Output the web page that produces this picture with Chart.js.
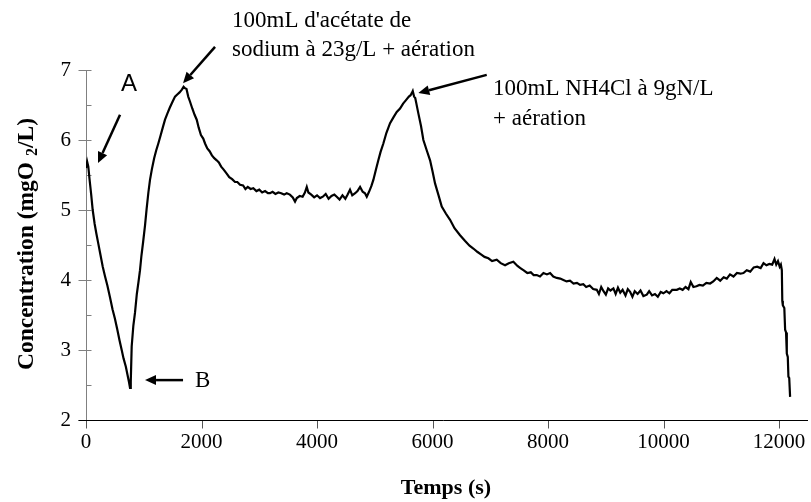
<!DOCTYPE html>
<html><head><meta charset="utf-8">
<script src="https://cdn.jsdelivr.net/npm/chart.js@4/dist/chart.umd.min.js"></script>
<style>html,body{margin:0;padding:0;background:#fff}canvas{display:block}</style>
</head><body>
<canvas id="c" width="811" height="502"></canvas>
<script>
// ---- data ----
const timeS = [0,20,40,60,90,116,150,180,213,250,290,330,370,416,460,500,540,580,618,650,690,720,745,762,
775,791,820,848,880,910,935,960,990,1022,1050,1080,1108,1140,1180,1215,1252,1290,1330,1368,1410,1450,1500,1541,1580,1620,1660,1690,1714,1740,1770,1800,1840,1880,1917,1950,1990,2030,2061,2100,2140,2180,2220,2263,2300,2340,2380,2436,2480,2530,2580,2620,2667,2720,2760,2800,2850,2897,2950,3000,3050,3100,3150,3186,3230,3280,3330,3380,3430,3475,3530,3580,3619,3650,3700,3750,3790,3822,3850,3900,3950,4000,4052,4100,4150,4200,4250,4300,4341,4390,4440,4490,4530,4571,4610,4660,4700,4745,4790,4830,4861,4900,4940,4975,5020,5061,5100,5148,5200,5264,5320,5380,5437,5490,5540,5590,5620,5640,5657,5680,5700,5720,5754,5800,5841,5900,5957,6000,6043,6100,6159,6230,6303,6380,6476,6560,6640,6706,6780,6850,6900,6966,7030,7111,7180,7255,7320,7399,7470,7520,7572,7640,7700,7750,7804,7860,7920,7980,8035,8090,8150,8210,8265,8320,8380,8440,8500,8554,8610,8660,8720,8780,8843,8880,8920,8960,9000,9040,9080,9131,9170,9210,9250,9290,9340,9380,9420,9460,9500,9550,9600,9650,9709,9750,9800,9850,9900,9950,9997,10050,10100,10150,10229,10280,10330,10380,10430,10470,10516,10570,10620,10680,10740,10805,10860,10920,10980,11040,11094,11150,11210,11270,11330,11382,11440,11500,11560,11620,11680,11730,11780,11830,11880,11920,11950,11980,12010,12030,12047,12055,12064,12090,12104,12120,12133,12150,12161,12175,12190];
const concMgO2 = [5.60,5.69,5.62,5.45,5.22,5.00,4.80,4.66,4.52,4.36,4.19,4.05,3.92,3.75,3.58,3.45,3.30,3.14,3.00,2.88,2.76,2.64,2.54,2.46,
2.55,3.05,3.35,3.53,3.80,3.98,4.14,4.35,4.55,4.78,5.02,5.25,5.43,5.58,5.74,5.85,5.95,6.06,6.18,6.29,6.38,6.46,6.55,6.62,6.65,6.68,6.72,6.76,6.74,6.73,6.62,6.55,6.45,6.36,6.29,6.18,6.07,6.02,5.95,5.88,5.84,5.78,5.74,5.71,5.68,5.62,5.58,5.52,5.47,5.44,5.40,5.40,5.36,5.35,5.30,5.33,5.30,5.31,5.27,5.29,5.25,5.27,5.24,5.24,5.26,5.23,5.25,5.24,5.22,5.24,5.22,5.18,5.12,5.17,5.20,5.19,5.25,5.33,5.25,5.22,5.18,5.21,5.17,5.19,5.23,5.16,5.20,5.22,5.19,5.15,5.21,5.16,5.22,5.29,5.21,5.24,5.27,5.33,5.26,5.24,5.19,5.26,5.34,5.43,5.58,5.71,5.83,5.95,6.10,6.24,6.32,6.40,6.45,6.52,6.57,6.62,6.64,6.67,6.70,6.62,6.60,6.52,6.38,6.20,6.00,5.85,5.71,5.55,5.38,5.22,5.05,4.95,4.86,4.74,4.64,4.56,4.49,4.45,4.40,4.36,4.33,4.31,4.27,4.29,4.24,4.21,4.24,4.26,4.20,4.17,4.14,4.10,4.11,4.07,4.07,4.05,4.10,4.08,4.10,4.05,4.03,4.02,4.00,3.98,3.99,3.95,3.96,3.93,3.94,3.90,3.92,3.87,3.86,3.80,3.90,3.84,3.79,3.88,3.85,3.88,3.80,3.89,3.82,3.86,3.78,3.87,3.83,3.76,3.84,3.80,3.85,3.77,3.79,3.84,3.78,3.80,3.76,3.83,3.81,3.84,3.81,3.86,3.86,3.88,3.86,3.90,3.87,3.97,3.90,3.91,3.93,3.92,3.96,3.95,3.98,4.03,3.99,4.04,4.02,4.08,4.05,4.10,4.09,4.10,4.14,4.12,4.18,4.19,4.17,4.24,4.21,4.23,4.22,4.30,4.22,4.27,4.19,4.22,4.14,3.70,3.64,3.60,3.29,3.25,2.95,2.90,2.62,2.60,2.33];
const xTickValues = [0,2000,4000,6000,8000,10000,12000];
const yTickValues = [2,3,4,5,6,7];
const yMinorValues = [2.5,3.5,4.5,5.5,6.5];
const xTitle = "Temps (s)";
const yTitleParts = ["Concentration (mgO ", "2", "/L)"];
// annotation texts anchored in data units (time, concentration)
const noteTexts = [
  {text:"100mL d'acétate de", t:2528, v:7.61, font:"23px 'Liberation Serif'"},
  {text:"sodium à 23g/L + aération", t:2528, v:7.20, font:"23px 'Liberation Serif'"},
  {text:"100mL NH4Cl à 9gN/L", t:7048, v:6.64, font:"23px 'Liberation Serif'"},
  {text:"+ aération", t:7048, v:6.21, font:"23px 'Liberation Serif'"},
  {text:"A", t:745, v:6.70, font:"24px 'Liberation Sans'", center:true},
  {text:"B", t:1887, v:2.47, font:"23px 'Liberation Serif'"}
];
const noteArrows = [
  {t1:589, v1:6.36, t2:208, v2:5.67},
  {t1:2234, v1:7.33, t2:1680, v2:6.81},
  {t1:6938, v1:6.93, t2:5754, v2:6.67},
  {t1:1680, v1:2.57, t2:1022, v2:2.57}
];

const points = timeS.map((t,i)=>({x:t, y:concMgO2[i]}));

const axesPlugin = {
  id:'axesDraw',
  beforeDatasetsDraw(chart){
    const {ctx, chartArea:a, scales:{x,y}} = chart;
    ctx.save();
    const x0 = Math.round(x.getPixelForValue(0))+0.5;
    const yb = Math.round(y.getPixelForValue(2))+0.5;
    // y axis (gray)
    ctx.strokeStyle='#808080'; ctx.lineWidth=1;
    ctx.beginPath();
    ctx.moveTo(x0, Math.round(y.getPixelForValue(7))); ctx.lineTo(x0, yb);
    yTickValues.forEach(v=>{const p=Math.round(y.getPixelForValue(v))+0.5; ctx.moveTo(x0-8,p); ctx.lineTo(x0+5,p);});
    yMinorValues.forEach(v=>{const p=Math.round(y.getPixelForValue(v))+0.5; ctx.moveTo(x0,p); ctx.lineTo(x0+5,p);});
    ctx.stroke();
    // x ticks
    ctx.strokeStyle='#555'; ctx.beginPath();
    xTickValues.forEach(t=>{const p=Math.round(x.getPixelForValue(t))+0.5; ctx.moveTo(p,yb); ctx.lineTo(p,yb+8);});
    ctx.stroke();
    // x axis (black)
    ctx.strokeStyle='#000'; ctx.beginPath();
    ctx.moveTo(x0-8, yb); ctx.lineTo(a.right, yb); ctx.stroke();
    ctx.restore();
  },
  afterDraw(chart){
    const {ctx, chartArea:a, scales:{x,y}} = chart;
    ctx.save();
    ctx.fillStyle='#000';
    // axis titles
    ctx.font="bold 22px 'Liberation Serif'";
    ctx.textAlign='center'; ctx.textBaseline='alphabetic';
    ctx.fillText(xTitle, 446, 494);
    // y title with subscript
    ctx.save();
    ctx.translate(33, 244); ctx.rotate(-Math.PI/2);
    const fBig="bold 23.5px 'Liberation Serif'", fSmall="bold 16px 'Liberation Serif'";
    ctx.font=fBig; const w1=ctx.measureText(yTitleParts[0]).width, w3=ctx.measureText(yTitleParts[2]).width;
    ctx.font=fSmall; const w2=ctx.measureText(yTitleParts[1]).width;
    let sx = -(w1+w2+w3)/2;
    ctx.textAlign='left';
    ctx.font=fBig; ctx.fillText(yTitleParts[0], sx, 0); sx+=w1;
    ctx.font=fSmall; ctx.fillText(yTitleParts[1], sx, 4); sx+=w2;
    ctx.font=fBig; ctx.fillText(yTitleParts[2], sx, 0);
    ctx.restore();
    // notes
    noteTexts.forEach(n=>{
      ctx.font=n.font; ctx.textAlign=n.center?'center':'left'; ctx.textBaseline='alphabetic';
      ctx.fillText(n.text, x.getPixelForValue(n.t), y.getPixelForValue(n.v));
    });
    // arrows
    ctx.strokeStyle='#000'; ctx.lineWidth=2.5;
    noteArrows.forEach(ar=>{
      const x1=x.getPixelForValue(ar.t1), y1=y.getPixelForValue(ar.v1);
      const x2=x.getPixelForValue(ar.t2), y2=y.getPixelForValue(ar.v2);
      const ang=Math.atan2(y2-y1,x2-x1), L=11, W=5;
      const bx=x2-L*Math.cos(ang), by=y2-L*Math.sin(ang);
      ctx.beginPath(); ctx.moveTo(x1,y1); ctx.lineTo(bx,by); ctx.stroke();
      ctx.beginPath(); ctx.moveTo(x2,y2);
      ctx.lineTo(bx+W*Math.sin(ang), by-W*Math.cos(ang));
      ctx.lineTo(bx-W*Math.sin(ang), by+W*Math.cos(ang));
      ctx.closePath(); ctx.fill();
    });
    ctx.restore();
  }
};

Chart.defaults.font.family = "'Liberation Serif'";
new Chart(document.getElementById('c'), {
  type:'line',
  data:{datasets:[{data:points, borderColor:'#000', borderWidth:2.2, pointRadius:0, tension:0, fill:false}]},
  options:{
    responsive:false, animation:false, devicePixelRatio:1,
    layout:{padding:{top:70, right:3, left:0, bottom:0}},
    plugins:{legend:{display:false}, tooltip:{enabled:false}},
    scales:{
      x:{type:'linear', min:0, max:12500,
        grid:{display:false, drawTicks:false}, border:{display:false},
        afterBuildTicks:s=>{s.ticks = xTickValues.map(v=>({value:v}));},
        ticks:{color:'#000', padding:10, maxRotation:0, autoSkip:false,
          font:{size:21, family:"'Liberation Serif'"}, callback:v=>String(v)},
        afterFit:s=>{s.height=82; s.paddingRight=0; s.paddingLeft=0;}},
      y:{type:'linear', min:2, max:7,
        grid:{display:false, drawTicks:false}, border:{display:false},
        afterBuildTicks:s=>{s.ticks = yTickValues.map(v=>({value:v}));},
        ticks:{color:'#000', padding:15, font:{size:21, family:"'Liberation Serif'"}, callback:v=>String(v)},
        afterFit:s=>{s.width=86; s.paddingTop=0; s.paddingBottom=0;}}
    }
  },
  plugins:[axesPlugin]
});
</script>
</body></html>
